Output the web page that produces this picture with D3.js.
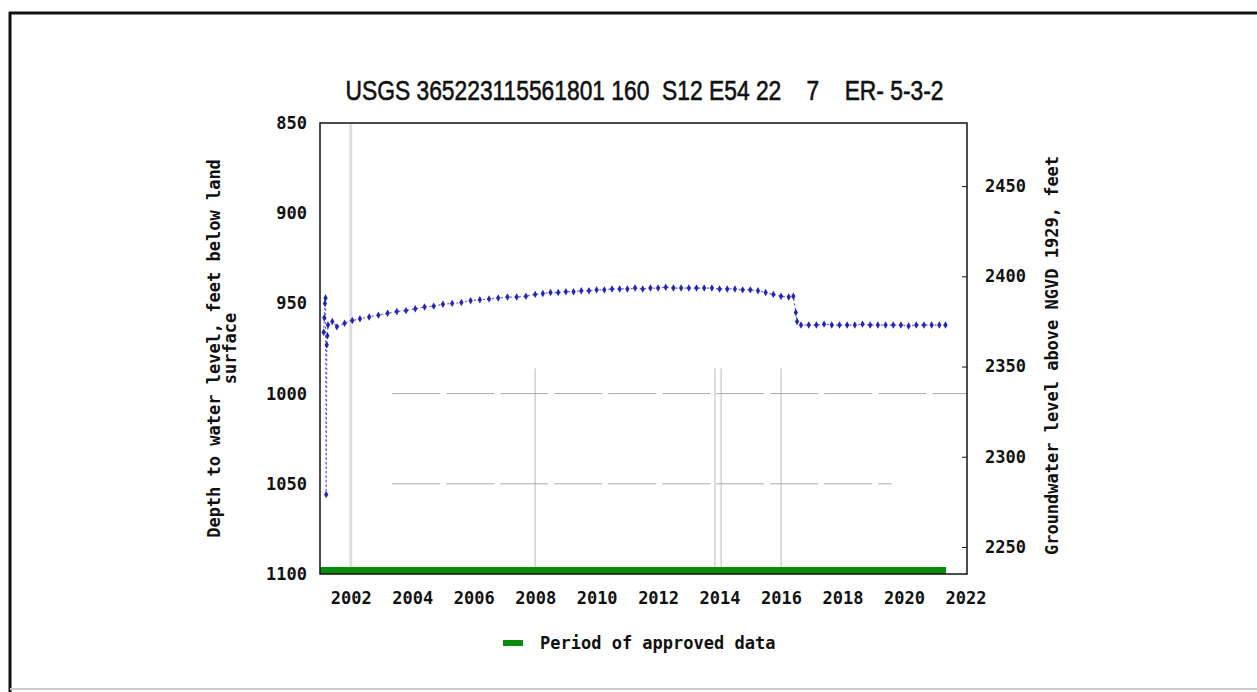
<!DOCTYPE html>
<html>
<head>
<meta charset="utf-8">
<script src="https://cdn.jsdelivr.net/npm/d3@7"></script>
<style>
	html, body { margin: 0; padding: 0; background: #fff; }
	svg { display: block; }
	.mono { font-family: "DejaVu Sans Mono", monospace; font-weight: bold; font-size: 17px; fill: #111; }
</style>
</head>
<body>
<svg id="chart" width="1257" height="692"></svg>
<script>
"use strict";

const title = "USGS 365223115561801 160  S12 E54 22    7    ER- 5-3-2";
const leftTitle = ["Depth to water level, feet below land", "surface"];
const rightTitle = "Groundwater level above NGVD 1929, feet";
const legendLabel = "Period of approved data";

const yearTicks = [2002, 2004, 2006, 2008, 2010, 2012, 2014, 2016, 2018, 2020, 2022];
const depthTicks = [850, 900, 950, 1000, 1050, 1100];
const elevTicks = [2250, 2300, 2350, 2400, 2450];
const landSurface = 3335;

// measurement dates (decimal years) and depth below land surface, feet
const sampleYears = [
	2001.12, 2001.14, 2001.16, 2001.18, 2001.20, 2001.22, 2001.24, 2001.26, 2001.40, 2001.55,
	2001.80, 2002.05, 2002.30, 2002.60, 2002.90, 2003.20, 2003.50, 2003.80, 2004.10, 2004.40,
	2004.70, 2005.00, 2005.30, 2005.60, 2005.90, 2006.20, 2006.50, 2006.80, 2007.10, 2007.40,
	2007.70, 2008.00, 2008.25, 2008.50, 2008.75, 2009.00, 2009.25, 2009.50, 2009.75, 2010.00,
	2010.25, 2010.50, 2010.75, 2011.00, 2011.25, 2011.50, 2011.75, 2012.00, 2012.25, 2012.50,
	2012.75, 2013.00, 2013.25, 2013.50, 2013.75, 2014.00, 2014.25, 2014.50, 2014.75, 2015.00,
	2015.25, 2015.50, 2015.75, 2016.00, 2016.25, 2016.40, 2016.48, 2016.52, 2016.65, 2016.90,
	2017.15, 2017.40, 2017.65, 2017.90, 2018.15, 2018.40, 2018.65, 2018.90, 2019.15, 2019.40,
	2019.65, 2019.90, 2020.15, 2020.40, 2020.65, 2020.90, 2021.15, 2021.35
];
const sampleDepths = [
	966, 958, 950, 947, 1056, 973, 968, 962, 960, 963,
	961, 959.5, 958.5, 957.5, 956.5, 955.5, 954.5, 954, 953, 952,
	951.5, 950.5, 950, 949.5, 948.5, 948, 947.5, 947, 946.5, 946.5,
	946, 945, 944.5, 944, 944, 943.5, 943.5, 943, 943, 942.5,
	942.5, 942, 942, 942, 941.5, 942, 941.5, 941.5, 941, 941.5,
	941.5, 941.5, 941.5, 941.5, 941.5, 942, 942, 942, 942.5, 942.5,
	943, 944, 945, 946, 946.5, 946, 955, 960, 962, 962,
	962, 961.5, 962, 962, 962, 962, 961.5, 962, 962, 962,
	962, 962, 962.5, 962, 962, 962, 962, 962
];
const approvedPeriod = [2001.0, 2021.37];

// faint ghost lines seen in the source image
const ghostVertical = [2002, 2008, 2013.85, 2014.05, 2016];
const ghostHorizontal = [[1000, 2003.35, 2022.05], [1050, 2003.35, 2019.6]];

const svg = d3.select("#chart");
const plotLeft = 320, plotRight = 967, plotTop = 123, plotBottom = 574;

const x = d3.scaleLinear().domain([2001.0, 2022.05]).range([plotLeft, plotRight]);
const y = d3.scaleLinear().domain([850, 1100]).range([plotTop, plotBottom]);
const yR = d3.scaleLinear().domain([landSurface - 850, landSurface - 1100]).range([plotTop, plotBottom]);

// outer frame
svg.append("line").attr("x1", 9).attr("x2", 1257).attr("y1", 13).attr("y2", 13)
	.attr("stroke", "#111").attr("stroke-width", 3);
svg.append("line").attr("x1", 10).attr("x2", 10).attr("y1", 12).attr("y2", 692)
	.attr("stroke", "#111").attr("stroke-width", 3);
svg.append("line").attr("x1", 10).attr("x2", 1257).attr("y1", 689).attr("y2", 689)
	.attr("stroke", "#ccc").attr("stroke-width", 2);

// title
svg.append("text")
	.attr("x", (plotLeft + plotRight) / 2 + 1).attr("y", 100)
	.attr("text-anchor", "middle")
	.attr("xml:space", "preserve")
	.style("white-space", "pre")
	.attr("textLength", 598).attr("lengthAdjust", "spacingAndGlyphs")
	.attr("font-family", "'Liberation Sans Narrow', 'Arial Narrow', 'Liberation Sans', sans-serif")
	.attr("font-size", 28).attr("fill", "#111")
	.attr("stroke", "#111").attr("stroke-width", 0.6)
	.text(title);

// ghost lines
svg.append("line").attr("x1", x(ghostVertical[0])).attr("x2", x(ghostVertical[0]))
	.attr("y1", plotTop).attr("y2", plotBottom).attr("stroke", "#ddd").attr("stroke-width", 3);
svg.selectAll("line.gv").data(ghostVertical.slice(1)).enter().append("line")
	.attr("class", "gv")
	.attr("x1", d => x(d)).attr("x2", d => x(d))
	.attr("y1", y(986)).attr("y2", plotBottom)
	.attr("stroke", "#bbb").attr("stroke-width", 1);
svg.selectAll("line.gh").data(ghostHorizontal).enter().append("line")
	.attr("class", "gh")
	.attr("x1", d => x(d[1])).attr("x2", d => x(d[2]))
	.attr("y1", d => y(d[0])).attr("y2", d => y(d[0]))
	.attr("stroke", "#aaa").attr("stroke-width", 1)
	.attr("stroke-dasharray", "48,6");

// period of approved data
svg.append("rect")
	.attr("x", x(approvedPeriod[0])).attr("width", x(approvedPeriod[1]) - x(approvedPeriod[0]))
	.attr("y", plotBottom - 7).attr("height", 7)
	.attr("fill", "#0c8a0c");

// series
const pts = sampleYears.map((d, i) => [d, sampleDepths[i]]);
svg.append("path")
	.datum(pts)
	.attr("fill", "none")
	.attr("stroke", "#5a5aee")
	.attr("stroke-width", 1.2)
	.attr("stroke-dasharray", "2,2.5")
	.attr("d", d3.line().x(d => x(d[0])).y(d => y(d[1])));
svg.selectAll("path.pt").data(pts).enter().append("path")
	.attr("class", "pt")
	.attr("transform", d => `translate(${x(d[0])},${y(d[1])})`)
	.attr("d", d3.symbol(d3.symbolDiamond, 16))
	.attr("fill", "#2626b4");

// plot border
svg.append("rect")
	.attr("x", plotLeft).attr("y", plotTop)
	.attr("width", plotRight - plotLeft).attr("height", plotBottom - plotTop)
	.attr("fill", "none").attr("stroke", "#111").attr("stroke-width", 1.5);

// axes
const fmt = d3.format("d");
const gl = svg.append("g").attr("transform", `translate(${plotLeft},0)`)
	.call(d3.axisLeft(y).tickValues(depthTicks).tickFormat(fmt).tickSize(0).tickPadding(13));
const gr = svg.append("g").attr("transform", `translate(${plotRight},0)`)
	.call(d3.axisRight(yR).tickValues(elevTicks).tickFormat(fmt).tickSize(-5).tickPadding(18));
const gb = svg.append("g").attr("transform", `translate(0,${plotBottom})`)
	.call(d3.axisBottom(x).tickValues(yearTicks).tickFormat(fmt).tickSize(0).tickPadding(18));
[gl, gr, gb].forEach(g => {
	g.select(".domain").remove();
	g.attr("font-family", null).attr("font-size", null);
	g.selectAll("text").attr("class", "mono").attr("fill", null);
	g.selectAll("line").attr("stroke", "#111");
});

// axis titles
const lt = svg.append("text").attr("class", "mono")
	.attr("text-anchor", "middle")
	.attr("transform", `translate(220,${(plotTop + plotBottom) / 2}) rotate(-90)`);
lt.selectAll("tspan").data(leftTitle).enter().append("tspan")
	.attr("x", 0).attr("dy", (d, i) => i ? 16 : 0)
	.text(d => d);
svg.append("text").attr("class", "mono")
	.attr("text-anchor", "middle")
	.attr("transform", `translate(1058,${(plotTop + plotBottom) / 2 + 7}) rotate(-90)`)
	.text(rightTitle);

// legend
svg.append("line").attr("x1", 503).attr("x2", 523).attr("y1", 643).attr("y2", 643)
	.attr("stroke", "#0c8a0c").attr("stroke-width", 6);
svg.append("text").attr("class", "mono")
	.attr("x", 540).attr("y", 649)
	.text(legendLabel);
</script>
</body>
</html>
